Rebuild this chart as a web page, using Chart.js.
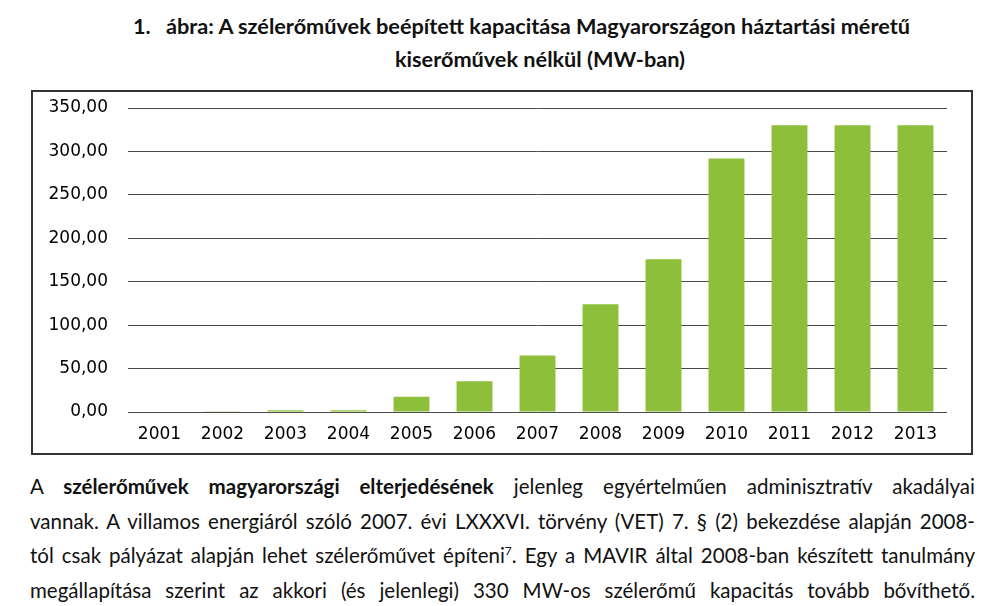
<!DOCTYPE html>
<html lang="hu">
<head>
<meta charset="utf-8">
<script src="https://cdn.jsdelivr.net/npm/chart.js@4.4.1/dist/chart.umd.min.js"></script>
<style>
    html, body { margin: 0; padding: 0; background: #fff; }
    body { width: 994px; height: 606px; position: relative; overflow: hidden; font-family: Lato, "Open Sans", sans-serif; color: #111; }
    .title1 { position: absolute; left: 133px; top: 13px; font-weight: bold; font-size: 21.7px; white-space: nowrap; }
    .title1 .num { display: inline-block; width: 33px; }
    .title2 { position: absolute; left: 0; width: 1080px; top: 46px; text-align: center; font-weight: bold; font-size: 21.7px; }
    #chart-box { position: absolute; left: 31px; top: 90px; width: 938px; height: 361px; border: 2px solid #333; background: #fff; }
    .body-text { position: absolute; left: 30px; top: 471px; width: 945px; font-size: 20.5px; }
    .body-text div { height: 34.5px; line-height: 30px; text-align: justify; text-align-last: justify; white-space: nowrap; }
    sup { font-size: 12px; line-height: 0; }
</style>
</head>
<body>
<div class="title1"><span class="num">1.</span>ábra: A szélerőművek beépített kapacitása Magyarországon háztartási méretű</div>
<div class="title2">kiserőművek nélkül (MW-ban)</div>
<div id="chart-box"><canvas id="wind-chart" width="938" height="361"></canvas></div>
<div class="body-text">
    <div>A <b>szélerőművek magyarországi elterjedésének</b> jelenleg egyértelműen adminisztratív akadályai</div>
    <div>vannak. A villamos energiáról szóló 2007. évi LXXXVI. törvény (VET) 7. § (2) bekezdése alapján 2008-</div>
    <div>tól csak pályázat alapján lehet szélerőművet építeni<sup>7</sup>. Egy a MAVIR által 2008-ban készített tanulmány</div>
    <div>megállapítása szerint az akkori (és jelenlegi) 330 MW-os szélerőmű kapacitás tovább bővíthető.</div>
</div>
<script>
// Installed wind capacity in Hungary (MW)
const years = ['2001', '2002', '2003', '2004', '2005', '2006', '2007', '2008', '2009', '2010', '2011', '2012', '2013'];
const capacityMW = [0, 1, 2, 2, 17.5, 35.5, 65, 124, 176, 292, 330, 330, 330];
const yTickValues = [0, 50, 100, 150, 200, 250, 300, 350];
const yTickLabels = ['0,00', '50,00', '100,00', '150,00', '200,00', '250,00', '300,00', '350,00'];

const ctx = document.getElementById('wind-chart').getContext('2d');
new Chart(ctx, {
    type: 'bar',
    data: {
        labels: years,
        datasets: [{
            data: capacityMW,
            backgroundColor: '#8dbf3b',
            borderWidth: 0,
            categoryPercentage: 1,
            barPercentage: 0.57
        }]
    },
    options: {
        responsive: false,
        animation: false,
        layout: { padding: { top: 16, right: 24, bottom: 0, left: 0 } },
        plugins: {
            legend: { display: false },
            tooltip: { enabled: false }
        },
        scales: {
            x: {
                grid: { display: false, drawTicks: false },
                border: { display: false },
                ticks: {
                    padding: 12,
                    color: '#000',
                    font: { family: 'DejaVu Sans', size: 17 }
                },
                afterFit: function(scale) {
                    scale.height = 41;
                    scale.paddingLeft = 0;
                    scale.paddingRight = 0;
                }
            },
            y: {
                min: 0,
                max: 350,
                grid: { color: '#4a4a4a', lineWidth: 1, drawTicks: false },
                border: { display: false },
                ticks: {
                    stepSize: 50,
                    padding: 20,
                    color: '#000',
                    font: { family: 'DejaVu Sans', size: 17 },
                    callback: function(value) {
                        const i = yTickValues.indexOf(value);
                        return i >= 0 ? yTickLabels[i] : '';
                    }
                },
                afterFit: function(scale) {
                    scale.width = 95;
                    // the tick padding is otherwise added above the top label
                    scale.paddingTop = 0;
                    scale.paddingBottom = 0;
                }
            }
        }
    }
});
</script>
</body>
</html>
